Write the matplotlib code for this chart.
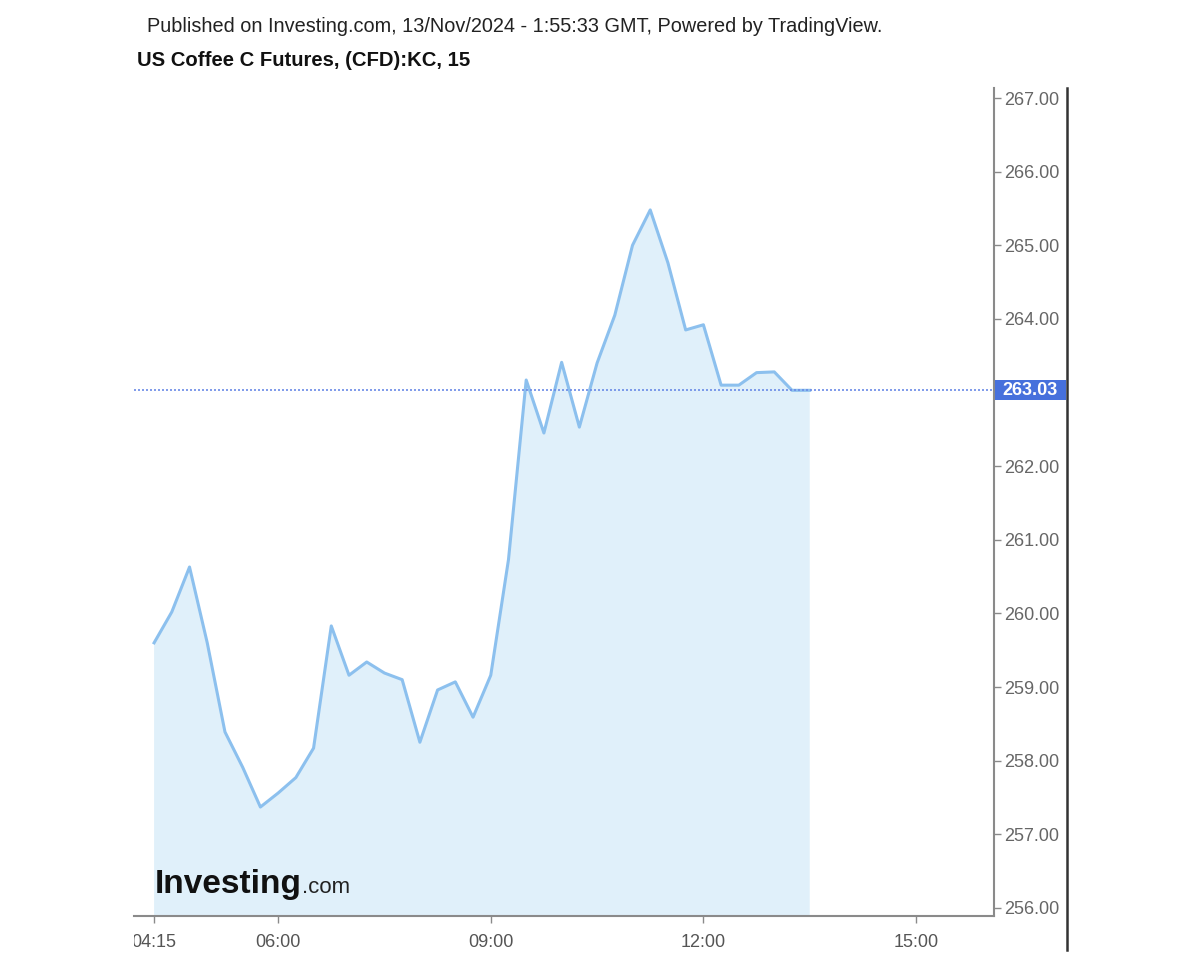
import matplotlib
matplotlib.use("Agg")
import matplotlib.pyplot as plt
import matplotlib.transforms as mtransforms
from matplotlib.patches import Rectangle
from matplotlib.lines import Line2D
import pandas as pd

# ---- data ----
start_time = "2024-11-12 04:15"
prices = [259.60, 260.02, 260.63, 259.60, 258.39, 257.91, 257.37, 257.56,
          257.77, 258.17, 259.83, 259.16, 259.34, 259.19, 259.10, 258.25,
          258.96, 259.07, 258.59, 259.16, 260.73, 263.17, 262.45, 263.41,
          262.53, 263.40, 264.05, 265.00, 265.48, 264.76, 263.85, 263.92,
          263.10, 263.10, 263.27, 263.28, 263.03, 263.03]
last_price = 263.03
y_ticks = [256, 257, 258, 259, 260, 261, 262, 264, 265, 266, 267]
x_tick_labels = ["04:15", "06:00", "09:00", "12:00", "15:00"]
title1 = "Published on Investing.com, 13/Nov/2024 - 1:55:33 GMT, Powered by TradingView."
title2 = "US Coffee C Futures, (CFD):KC, 15"

times = pd.date_range(start_time, periods=len(prices), freq="15min")
day = pd.Timestamp("2024-11-12")
tick_times = [day + pd.Timedelta(t + ":00") for t in x_tick_labels]

plt.rcParams['font.family'] = ['Liberation Sans', 'DejaVu Sans']

W, H = 1200, 960
fig = plt.figure(figsize=(W / 100, H / 100), dpi=100)
fig.patch.set_facecolor("white")

L, R, T, B = 134, 994, 88, 916
ax = fig.add_axes([L / W, 1 - B / H, (R - L) / W, (B - T) / H])

line_color = "#8cc0ee"
fill_color = "#e0f0fa"
ax.fill_between(times, prices, 200, color=fill_color, lw=0, zorder=1)
ax.plot(times, prices, color=line_color, lw=2.2, zorder=3)

ax.axhline(last_price, color="#6a8ae6", lw=1.2, ls=(0, (1.2, 1.2)), zorder=4)

ax.set_xlim(day + pd.Timedelta("03:58:00"), day + pd.Timedelta("16:06:00"))
ax.set_ylim(255.89, 267.136)

ax.yaxis.tick_right()
ax.set_yticks(y_ticks)
ax.set_yticklabels([f"{v:.2f}" for v in y_ticks])
ax.set_xticks(tick_times)
ax.set_xticklabels(x_tick_labels)

for s in ["top", "left"]:
    ax.spines[s].set_visible(False)
for s in ["bottom", "right"]:
    ax.spines[s].set_color("#8a8a8a")
    ax.spines[s].set_linewidth(1.5)

ax.tick_params(axis="y", which="both", direction="out", length=5, width=1,
               color="#8a8a8a", labelcolor="#666666", labelsize=13, pad=2)
ax.tick_params(axis="x", which="both", direction="out", length=5, width=1,
               color="#8a8a8a", labelcolor="#555555", labelsize=13, pad=8)

# clip the first x tick label at the left edge of the axis
clipbox = mtransforms.TransformedBbox(
    mtransforms.Bbox.from_extents(L / W, 0, 1, 1), fig.transFigure)
for lab in ax.get_xticklabels():
    lab.set_clip_box(clipbox)
    lab.set_clip_on(True)

# last price marker on the scale
trans = mtransforms.blended_transform_factory(fig.transFigure, ax.transData)
box_h = 20 / ((B - T) / (267.136 - 255.89))
fig.patches.append(Rectangle((995 / W, last_price - box_h / 2), (1066 - 995) / W, box_h,
                             transform=trans, facecolor="#4670dc", edgecolor="none",
                             zorder=5))
fig.text(1002 / W, last_price, f"{last_price:.2f}", transform=trans, color="white",
         fontsize=13, fontweight="bold", va="center", ha="left", zorder=6)

# right border of the price scale
fig.add_artist(Line2D([1067 / W, 1067 / W], [1 - 88 / H, 1 - 950 / H],
                      color="#333333", lw=1.8))

# titles
fig.text(147 / W, 1 - 27 / H, title1, fontsize=14.3, color="#222222", va="center", ha="left")
fig.text(137 / W, 1 - 61 / H, title2, fontsize=14.6, fontweight="bold", color="#111111",
         va="center", ha="left")

# watermark logo
logo_y = 0.028
t1 = ax.text(0.0245, logo_y, "Investing", transform=ax.transAxes,
             fontsize=24, fontweight="bold", color="#111111", va="baseline", ha="left",
             zorder=6)
fig.canvas.draw()
bb = t1.get_window_extent()
fig.text(bb.x1 / W, logo_y * (B - T) / H + (1 - B / H), ".com", fontsize=16,
         color="#222222", va="baseline", ha="left", zorder=6)

fig.savefig("out.png", dpi=100, facecolor="white")
